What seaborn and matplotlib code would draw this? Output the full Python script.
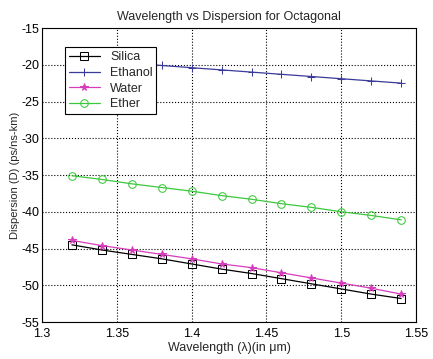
import matplotlib
matplotlib.use('Agg')
from matplotlib import pyplot as plt
import pandas as pd
import seaborn as sns

# data
wavelength = [1.32, 1.34, 1.36, 1.38, 1.40, 1.42, 1.44, 1.46, 1.48, 1.50, 1.52, 1.54]
silica = [-44.5, -45.2, -45.8, -46.4, -47.1, -47.8, -48.4, -49.1, -49.8, -50.5, -51.2, -51.8]
ethanol = [-19.2, -19.5, -19.8, -20.1, -20.4, -20.7, -21.0, -21.3, -21.6, -21.9, -22.2, -22.5]
water = [-43.9, -44.6, -45.2, -45.8, -46.4, -47.1, -47.6, -48.3, -49.0, -49.7, -50.4, -51.2]
ether = [-35.1, -35.6, -36.2, -36.7, -37.2, -37.8, -38.3, -38.9, -39.4, -40.0, -40.5, -41.1]

sns.set_style('white')
plt.rcParams['font.family'] = ['Liberation Sans', 'DejaVu Sans']
plt.rcParams['axes.unicode_minus'] = False

fig = plt.figure(figsize=(4.33, 3.59), dpi=100)
ax = fig.add_axes([0.097, 0.103, 0.864, 0.819])

series = [
    ('Silica', silica, 'black', 's', 'none'),
    ('Ethanol', ethanol, '#3a3a9a', '+', '#3a3a9a'),
    ('Water', water, '#d63cbc', '*', '#d63cbc'),
    ('Ether', ether, '#3cc83c', 'o', 'none'),
]
for name, vals, col, mk, fc in series:
    df = pd.DataFrame({'x': wavelength, 'y': vals})
    sns.lineplot(data=df, x='x', y='y', ax=ax, color=col, marker=mk,
                 markerfacecolor=fc, markeredgecolor=col, markersize=5.5,
                 linewidth=0.9, label=name)

ax.set_xlim(1.3, 1.55)
ax.set_ylim(-55, -15)
ax.set_xticks([1.3, 1.35, 1.4, 1.45, 1.5, 1.55])
ax.set_xticklabels(['1.3', '1.35', '1.4', '1.45', '1.5', '1.55'])
ax.set_yticks(range(-55, -14, 5))
ax.grid(True, linestyle=':', color='black', linewidth=0.8)
ax.tick_params(direction='in', labelsize=9, length=3, colors='black', pad=2)
ax.tick_params(axis='x', pad=4)
for s in ax.spines.values():
    s.set_color('black')
    s.set_linewidth(0.8)

ax.set_title('Wavelength vs Dispersion for Octagonal', fontsize=9)
ax.set_xlabel('Wavelength (λ)(in μm)', fontsize=9, labelpad=2)
ax.set_ylabel('Dispersion (D) (ps/ns-km)', fontsize=8, labelpad=1)

leg = ax.legend(loc='upper left', bbox_to_anchor=(0.045, 0.955), fontsize=9,
                frameon=True, fancybox=False, framealpha=1, edgecolor='black',
                handlelength=2.5, borderpad=0.3, labelspacing=0.3)
leg.get_frame().set_linewidth(0.8)

fig.savefig('out.png', dpi=100)
